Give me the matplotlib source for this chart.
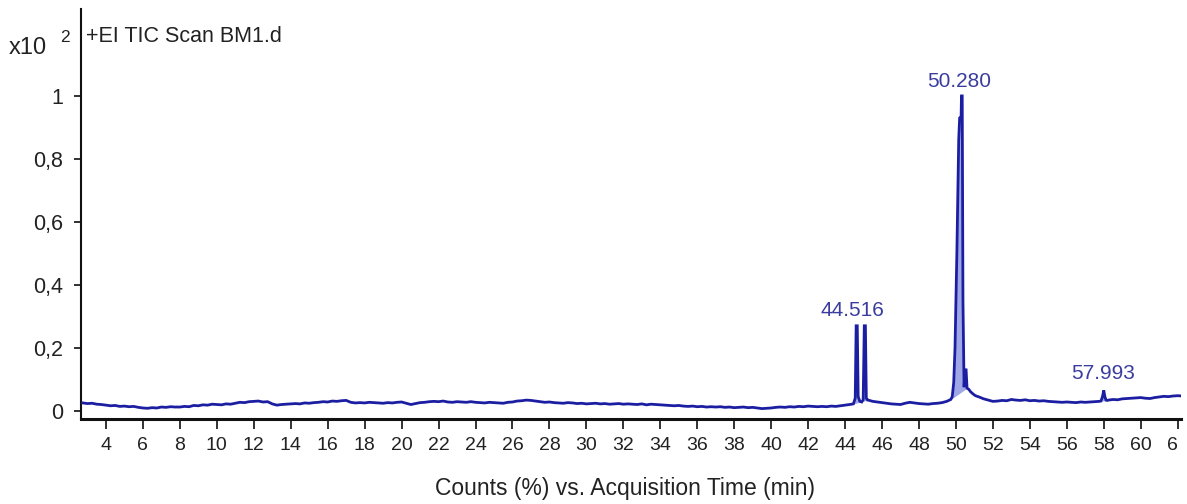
import numpy as np
import matplotlib
matplotlib.use("Agg")
import matplotlib.pyplot as plt
from matplotlib.patches import Rectangle

plt.rcParams['font.family'] = ['Liberation Sans', 'DejaVu Sans']

# ---------------- data ----------------
# baseline trace, one value every 0.25 min starting at 2.75 min (relative counts, x10^2 %)
base_start = 2.75
base_step = 0.25
base_counts = [
    0.025,
    0.023, 0.024, 0.021, 0.020, 0.018,
    0.016, 0.017, 0.014, 0.015, 0.013, 0.014, 0.011, 0.009,
    0.008, 0.010, 0.009, 0.012, 0.011, 0.013, 0.012, 0.012,
    0.014, 0.013, 0.017, 0.016, 0.019, 0.018, 0.021, 0.020,
    0.019, 0.022, 0.021, 0.024, 0.027, 0.026, 0.029, 0.030,
    0.031, 0.028, 0.029, 0.022, 0.018, 0.020, 0.021, 0.022,
    0.023, 0.022, 0.025, 0.024, 0.026, 0.027, 0.029, 0.028,
    0.031, 0.030, 0.032, 0.033, 0.027, 0.025, 0.026, 0.025,
    0.027, 0.026, 0.025, 0.024, 0.026, 0.025, 0.027, 0.028,
    0.024, 0.020, 0.023, 0.026, 0.027, 0.029, 0.030, 0.029,
    0.031, 0.028, 0.027, 0.029, 0.028, 0.027, 0.029, 0.027,
    0.026, 0.025, 0.027, 0.026, 0.025, 0.024, 0.027, 0.028,
    0.031, 0.032, 0.034, 0.033, 0.031, 0.029, 0.027, 0.028,
    0.026, 0.025, 0.024, 0.026, 0.025, 0.023, 0.024, 0.022,
    0.023, 0.024, 0.022, 0.023, 0.021, 0.022, 0.023, 0.021,
    0.022, 0.021, 0.020, 0.022, 0.019, 0.021, 0.020, 0.019,
    0.018, 0.017, 0.016, 0.017, 0.015, 0.014, 0.015, 0.013,
    0.014, 0.012, 0.013, 0.012, 0.013, 0.011, 0.012, 0.010,
    0.011, 0.012, 0.010, 0.011, 0.009, 0.007, 0.008, 0.009,
    0.011, 0.012, 0.011, 0.013, 0.012, 0.014, 0.013, 0.015,
    0.014, 0.013, 0.014, 0.013, 0.015, 0.014, 0.016, 0.018,
    0.020, 0.022, 0.026, 0.030, 0.034, 0.030, 0.028, 0.026,
    0.024, 0.022, 0.021, 0.020, 0.024, 0.027, 0.025, 0.023,
    0.022, 0.021, 0.023, 0.024, 0.026, 0.030, 0.038, 0.050,
    0.065, 0.070, 0.060, 0.052, 0.044, 0.038, 0.034, 0.030,
    0.031, 0.033, 0.032, 0.036, 0.034, 0.033, 0.035, 0.032,
    0.033, 0.031, 0.032, 0.030, 0.029, 0.028, 0.027, 0.028,
    0.027, 0.026, 0.028, 0.027, 0.028, 0.029, 0.030, 0.032,
    0.034, 0.036, 0.035, 0.038, 0.039, 0.040, 0.041, 0.042,
    0.040, 0.039, 0.042, 0.044, 0.046, 0.045, 0.047, 0.048,
    0.047,
]

# detailed peak regions (time in min, counts)
peak_a_time = [44.45, 44.55, 44.60, 44.66, 44.71, 44.80, 44.90, 44.98, 45.04, 45.10, 45.15, 45.22]
peak_a_counts = [0.022, 0.040, 0.270, 0.270, 0.045, 0.030, 0.028, 0.035, 0.270, 0.270, 0.040, 0.034]

peak_b_time = [49.72, 49.80, 49.88, 49.95, 50.05, 50.15, 50.20, 50.28, 50.30, 50.34,
               50.38, 50.44, 50.50, 50.55, 50.60, 50.70, 50.80, 50.90, 51.00, 51.10]
peak_b_counts = [0.036, 0.045, 0.090, 0.200, 0.500, 0.860, 0.930, 0.935, 1.000, 1.000,
                 0.350, 0.075, 0.130, 0.130, 0.072, 0.068, 0.060, 0.055, 0.050, 0.047]

peak_c_time = [57.85, 57.93, 58.00, 58.06, 58.12, 58.20]
peak_c_counts = [0.031, 0.045, 0.065, 0.045, 0.034, 0.033]

# integrated areas (start, end) for shading
fill_windows = [(44.45, 45.22), (49.72, 50.60), (57.85, 58.20)]

peak_labels = ['44.516', '50.280', '57.993']
peak_label_x = [44.40, 50.20, 57.95]
peak_label_y = [0.320, 1.045, 0.120]

x_ticks = list(range(4, 63, 2))
y_ticks = [0, 0.2, 0.4, 0.6, 0.8, 1.0]
y_tick_labels = ['0', '0,2', '0,4', '0,6', '0,8', '1']

title_text = '+EI TIC Scan BM1.d'
xlabel_text = 'Counts (%) vs. Acquisition Time (min)'

# ---------------- assemble trace ----------------
base_counts = np.array(base_counts)
base_time = base_start + base_step * np.arange(len(base_counts))
peaks = [(peak_a_time, peak_a_counts), (peak_b_time, peak_b_counts), (peak_c_time, peak_c_counts)]
keep = np.ones(len(base_time), dtype=bool)
for pt, _ in peaks:
    keep &= ~((base_time >= pt[0]) & (base_time <= pt[-1]))
t_all = np.concatenate([base_time[keep]] + [np.array(pt) for pt, _ in peaks])
c_all = np.concatenate([base_counts[keep]] + [np.array(pc) for _, pc in peaks])
order = np.argsort(t_all)
t_all = t_all[order]
c_all = c_all[order]

# ---------------- figure ----------------
W, H = 1187, 504
fig = plt.figure(figsize=(W / 100, H / 100), dpi=100)
ax = fig.add_axes([81 / W, 85 / H, 1100 / W, 410 / H])

line_color = '#1c1ea2'
fill_color = '#8f98e2'
label_color = '#3b3d9e'
text_color = '#222222'

for (a, b) in fill_windows:
    m = (t_all >= a) & (t_all <= b)
    tt = t_all[m]
    cc = c_all[m]
    base_line = np.interp(tt, [tt[0], tt[-1]], [cc[0], cc[-1]])
    ax.fill_between(tt, base_line, cc, color=fill_color, alpha=0.85, lw=0, zorder=2)

ax.plot(t_all, c_all, color=line_color, lw=2.0, zorder=3, solid_joinstyle='miter')

for s, x, y in zip(peak_labels, peak_label_x, peak_label_y):
    ax.text(x, y, s, color=label_color, fontsize=15, ha='center', va='center', zorder=4)

ax.set_xlim(2.65, 62.18)
ax.set_ylim(-0.026, 1.276)

for side in ('top', 'right'):
    ax.spines[side].set_visible(False)
ax.spines['left'].set_linewidth(1.5)
ax.spines['bottom'].set_linewidth(2.2)
ax.spines['left'].set_color('#111111')
ax.spines['bottom'].set_color('#111111')

ax.set_xticks(x_ticks)
ax.set_xticklabels([str(v) for v in x_ticks])
ax.set_yticks(y_ticks)
ax.set_yticklabels(y_tick_labels)
ax.tick_params(axis='x', direction='out', length=7, width=1.3, pad=6,
               labelsize=14, colors=text_color)
ax.tick_params(axis='y', direction='out', length=5, width=1.3, pad=8,
               labelsize=15.5, colors=text_color)

# the reference image is cut just right of the last axis tick
fig.add_artist(Rectangle((1177 / W, 0), 1.0, 72 / H, transform=fig.transFigure,
                         facecolor='white', edgecolor='none', zorder=10))

fig.text(86 / W, 1 - 37 / H, title_text, fontsize=15.5, va='center', ha='left', color=text_color)
fig.text(9 / W, 1 - 48 / H, 'x10', fontsize=17, va='center', ha='left', color=text_color)
fig.text(60 / W, 1 - 38 / H, '2', fontsize=12.5, va='center', ha='left', color=text_color)
fig.text(625 / W, 1 - 488 / H, xlabel_text, fontsize=16.5, va='center', ha='center', color=text_color)

fig.savefig('out.png', dpi=100)
